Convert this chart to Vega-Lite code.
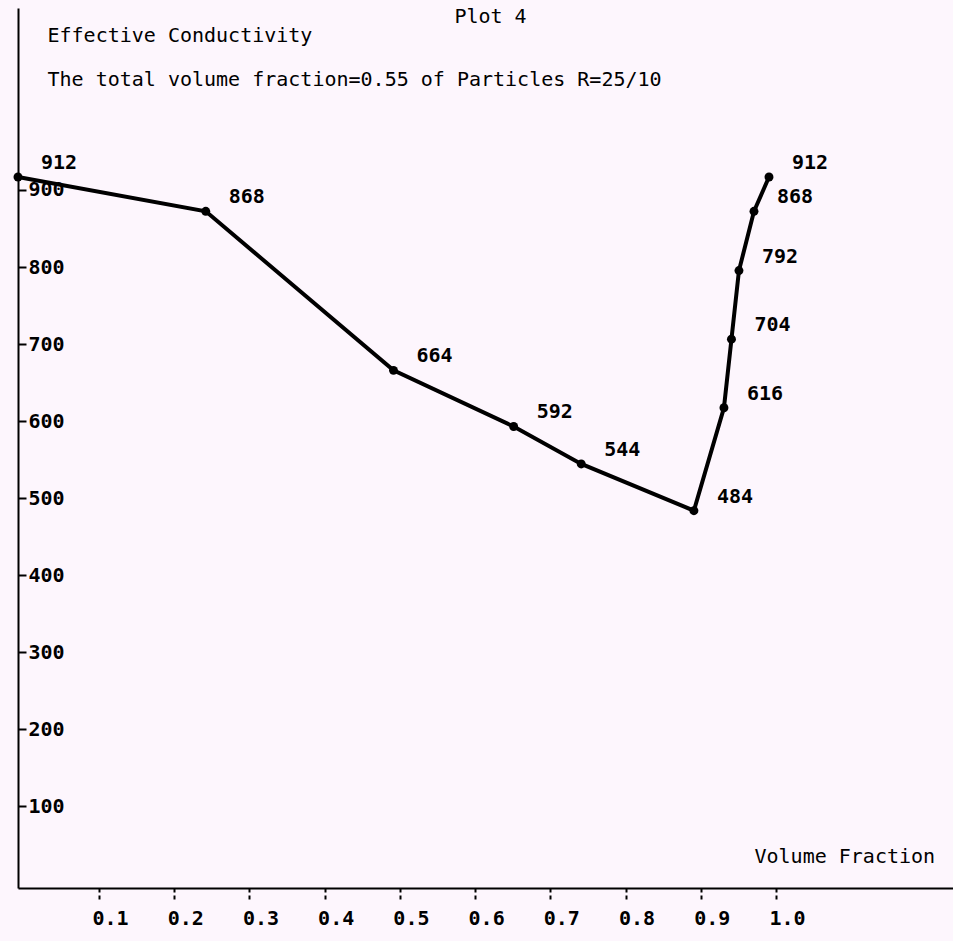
{
  "$schema": "https://vega.github.io/schema/vega-lite/v6.json",
  "width": 935,
  "height": 880,
  "autosize": {"type": "none"},
  "padding": {"left": 18, "top": 8, "right": 0, "bottom": 53},
  "background": "#fdf6fd",
  "config": {
    "view": {"stroke": null},
    "font": "DejaVu Sans Mono",
    "axis": {"grid": false}
  },
  "data": {
    "values": [
      {"x": 0.0, "y": 912},
      {"x": 0.25, "y": 868},
      {"x": 0.5, "y": 664},
      {"x": 0.66, "y": 592},
      {"x": 0.75, "y": 544},
      {"x": 0.9, "y": 484},
      {"x": 0.94, "y": 616},
      {"x": 0.95, "y": 704},
      {"x": 0.96, "y": 792},
      {"x": 0.98, "y": 868},
      {"x": 1.0, "y": 912}
    ]
  },
  "layer": [
    {
      "mark": {"type": "point", "opacity": 0},
      "encoding": {
        "x": {
          "field": "x",
          "type": "quantitative",
          "scale": {"domain": [-0.0077, 1.2353], "nice": false, "zero": false},
          "axis": {
            "orient": "bottom",
            "values": [0.1, 0.2, 0.3, 0.4, 0.5, 0.6, 0.7, 0.8, 0.9, 1.0],
            "format": ".1f",
            "domainColor": "black",
            "domainWidth": 2,
            "tickColor": "black",
            "tickSize": 12,
            "tickWidth": 2,
            "tickDash": [4, 3],
            "labelOffset": 11,
            "labelPadding": 8,
            "labelBaseline": "top",
            "labelFont": "DejaVu Sans Mono",
            "labelFontSize": 20,
            "labelFontWeight": "bold",
            "labelColor": "black",
            "title": "Volume Fraction",
            "titleX": 736,
            "titleY": -32,
            "titleAlign": "left",
            "titleAnchor": null,
            "titleBaseline": "middle",
            "titleFont": "DejaVu Sans Mono",
            "titleFontSize": 20,
            "titleFontWeight": "normal",
            "titleColor": "black"
          }
        },
        "y": {
          "field": "y",
          "type": "quantitative",
          "scale": {"domain": [-6.3, 1136.3], "nice": false, "zero": false},
          "axis": {
            "orient": "left",
            "values": [100, 200, 300, 400, 500, 600, 700, 800, 900],
            "domainColor": "black",
            "domainWidth": 2,
            "tickColor": "black",
            "tickSize": -8,
            "tickWidth": 2,
            "labelPadding": -2,
            "labelAlign": "left",
            "labelBaseline": "middle",
            "labelFont": "DejaVu Sans Mono",
            "labelFontSize": 20,
            "labelFontWeight": "bold",
            "labelColor": "black",
            "title": "Effective Conductivity",
            "titleX": 29,
            "titleY": 27,
            "titleAngle": 0,
            "titleAlign": "left",
            "titleBaseline": "middle",
            "titleFont": "DejaVu Sans Mono",
            "titleFontSize": 20,
            "titleFontWeight": "normal",
            "titleColor": "black"
          }
        }
      }
    },
    {
      "encoding": {
        "x": {
          "field": "x",
          "type": "quantitative",
          "scale": {"domain": [0, 1.245], "nice": false, "zero": false},
          "axis": {
            "orient": "top",
            "domain": false,
            "ticks": false,
            "labels": false,
            "title": "Plot 4",
            "titleX": 472,
            "titleY": 8,
            "titleAlign": "center",
            "titleBaseline": "middle",
            "titleFont": "DejaVu Sans Mono",
            "titleFontSize": 20,
            "titleFontWeight": "normal",
            "titleColor": "black"
          }
        },
        "y": {
          "field": "y",
          "type": "quantitative",
          "scale": {"domain": [0, 1128.8], "nice": false, "zero": false},
          "axis": {
            "orient": "right",
            "domain": false,
            "ticks": false,
            "labels": false,
            "title": "The total volume fraction=0.55 of Particles R=25/10",
            "titleX": -906,
            "titleY": 71,
            "titleAngle": 0,
            "titleAlign": "left",
            "titleBaseline": "middle",
            "titleFont": "DejaVu Sans Mono",
            "titleFontSize": 20,
            "titleFontWeight": "normal",
            "titleColor": "black"
          }
        }
      },
      "layer": [
        {"mark": {"type": "line", "color": "black", "strokeWidth": 4}},
        {"mark": {"type": "circle", "color": "black", "size": 80, "opacity": 1}},
        {
          "mark": {
            "type": "text",
            "align": "left",
            "baseline": "middle",
            "dx": 23,
            "dy": -14,
            "font": "DejaVu Sans Mono",
            "fontSize": 20,
            "fontWeight": "bold",
            "color": "black"
          },
          "encoding": {"text": {"field": "y", "type": "quantitative"}}
        }
      ]
    }
  ],
  "resolve": {"scale": {"x": "independent", "y": "independent"}}
}
